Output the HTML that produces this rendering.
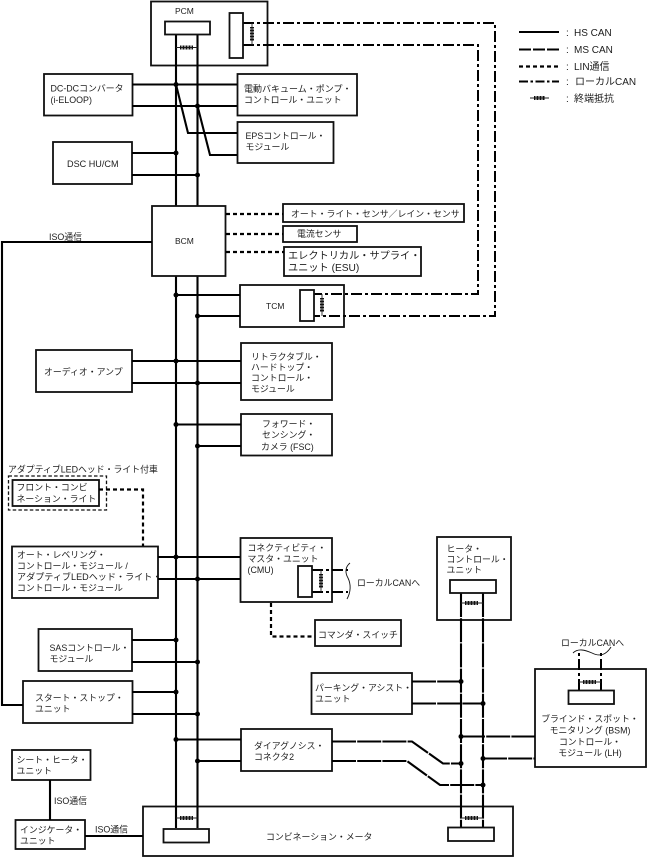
<!DOCTYPE html>
<html><head><meta charset="utf-8">
<style>
html,body{margin:0;padding:0;background:#fff}
svg{display:block}
text{font-family:"Liberation Sans","Noto Sans CJK JP",sans-serif;font-size:8.9px;fill:#1c1c1c}
.b{fill:#fff;stroke:#111;stroke-width:1.8}
.s{fill:none;stroke:#000;stroke-width:2.1}
.ms{fill:none;stroke:#000;stroke-width:2.1;stroke-dasharray:24 1.2}
.lin{fill:none;stroke:#000;stroke-width:2.2;stroke-dasharray:4 3}
.loc{fill:none;stroke:#000;stroke-width:2;stroke-dasharray:11 3 3 3}
.t{fill:none;stroke:#222;stroke-width:.9}
.r{fill:none;stroke:#111;stroke-width:4;stroke-dasharray:1 .5}
.w{fill:none;stroke:#111;stroke-width:.9}
.l{font-size:10px}
</style></head><body>
<svg width="647" height="857" viewBox="0 0 647 857" xmlns="http://www.w3.org/2000/svg">
<!-- boxes -->
<rect class="b" x="151" y="1.5" width="116.5" height="64"/>
<rect class="b" x="44" y="74" width="88.5" height="41.5"/>
<rect class="b" x="237.5" y="74" width="119.5" height="41.5"/>
<rect class="b" x="237.5" y="122" width="96" height="41"/>
<rect class="b" x="53" y="142" width="79" height="42"/>
<rect class="b" x="283" y="204" width="181" height="18"/>
<rect class="b" x="283" y="226" width="74" height="16"/>
<rect class="b" x="284" y="247" width="137" height="29"/>
<rect class="b" x="240" y="285" width="104" height="42"/>
<rect class="b" x="36" y="350" width="96" height="42"/>
<rect class="b" x="241" y="343" width="91" height="57"/>
<rect class="b" x="241" y="414" width="91" height="41.5"/>
<rect x="8.5" y="476" width="98" height="34" fill="none" stroke="#111" stroke-width="1.3" stroke-dasharray="3.5 2.2"/>
<rect class="b" x="12.5" y="480" width="86.5" height="26"/>
<rect class="b" x="12" y="546.500" width="146" height="51.5"/>
<rect class="b" x="240.500" y="538" width="91.500" height="64"/>
<rect class="b" x="315" y="620" width="86" height="26"/>
<rect class="b" x="437" y="537" width="74" height="83"/>
<rect class="b" x="38.500" y="629" width="93.500" height="42"/>
<rect class="b" x="23" y="681" width="109.500" height="42"/>
<rect class="b" x="311.500" y="673" width="100.500" height="41"/>
<rect class="b" x="535" y="669" width="111" height="98"/>
<rect class="b" x="241" y="729" width="91" height="42"/>
<rect class="b" x="12" y="750" width="78.500" height="30"/>
<rect class="b" x="15.500" y="820" width="69.500" height="29"/>
<rect class="b" x="143" y="806.500" width="370" height="49.500"/>
<!-- HS CAN buses -->
<path class="s" d="M176 35V828M197.500 35V828"/>
<path class="s" d="M132 84.500H237M132 106H237M176 84.500L188 133H237M197.500 106L210 155H237"/>
<path class="s" d="M132 153H176M132 175H197.500"/>
<path class="s" d="M176 295H240M197.500 316H240"/>
<path class="s" d="M132 361H241M132 383H241M176 424.500H241M197.500 446H241"/>
<path class="s" d="M158 557H240M158 579H240"/>
<path class="s" d="M132 640H176M132 662H197.500M132 692H176M132 714H197.500"/>
<path class="s" d="M176 739.500H241M197.500 761H241"/>
<!-- BCM hides the bus -->
<rect class="b" x="152" y="206" width="73.5" height="70"/>
<!-- ISO -->
<path class="s" d="M152 242H2V705H23M50 780V820M85 836H143"/>
<!-- LIN -->
<path class="lin" d="M226 214H283M226 234H283M226 252H284"/>
<path class="lin" d="M99 489.500H143V546"/>
<path class="lin" d="M271 603V636.500H315"/>
<!-- Local CAN -->
<path class="loc" d="M243 23H495V316H314"/>
<path class="loc" d="M243 45H478V294H314"/>
<path class="loc" d="M312 570H348M312 592H348"/>
<path class="loc" d="M579 690V650M601 690V650"/>
<!-- MS CAN -->
<path class="ms" d="M461 593V828M483 593V828"/>
<path class="ms" d="M412 681.500H461M412 703.500H483"/>
<path class="ms" d="M461 736.500H535M483 758.500H535"/>
<path class="ms" d="M332 741.500H412L443 763.500H461"/>
<path class="ms" d="M332 761H407L440 785H483"/>
<!-- inner connectors -->
<rect class="b" x="165" y="21.500" width="45" height="13"/>
<rect class="b" x="229.500" y="13" width="13.500" height="45"/>
<rect class="b" x="300" y="290" width="14" height="31"/>
<rect class="b" x="298" y="566" width="14" height="31"/>
<rect class="b" x="450" y="580" width="46" height="13"/>
<rect class="b" x="568.500" y="690.500" width="45.500" height="13.500"/>
<rect class="b" x="163.500" y="829" width="45.500" height="13.500"/>
<rect class="b" x="448" y="827.500" width="46" height="13.500"/>
<!-- resistors -->
<path class="t" d="M176 47.500H197.500"/><path class="r" d="M180 47.500H193"/>
<path class="t" d="M252 23V45"/><path class="r" d="M252 27V41"/>
<path class="t" d="M322 294V316"/><path class="r" d="M322 298V312"/>
<path class="t" d="M321 570V592"/><path class="r" d="M321 574V588"/>
<path class="t" d="M461 603H483"/><path class="r" d="M465 603H478"/>
<path class="t" d="M579 682H601"/><path class="r" d="M583 682H596"/>
<path class="t" d="M176 818H197.500"/><path class="r" d="M180 818H193"/>
<path class="t" d="M461 818H483"/><path class="r" d="M465 818H478"/>
<path class="t" d="M530 98H549"/><path class="r" d="M534 98H545"/>
<!-- waves -->
<path class="w" d="M350 563C345 567 345 573 348 578C351 584 351 592 347 599"/>
<path class="w" d="M573 653C578 648 585 650 592 653C600 657 606 655 611 647"/>
<!-- dots -->
<g fill="#000">
<circle cx="176" cy="84.500" r="2.500"/><circle cx="197.500" cy="106" r="2.500"/>
<circle cx="176" cy="153" r="2.500"/><circle cx="197.500" cy="175" r="2.500"/>
<circle cx="176" cy="295" r="2.500"/><circle cx="197.500" cy="316" r="2.500"/>
<circle cx="176" cy="361" r="2.500"/><circle cx="197.500" cy="383" r="2.500"/>
<circle cx="176" cy="424.500" r="2.500"/><circle cx="197.500" cy="446" r="2.500"/>
<circle cx="176" cy="557" r="2.500"/><circle cx="197.500" cy="579" r="2.500"/>
<circle cx="176" cy="640" r="2.500"/><circle cx="197.500" cy="662" r="2.500"/>
<circle cx="176" cy="692" r="2.500"/><circle cx="197.500" cy="714" r="2.500"/>
<circle cx="176" cy="739.500" r="2.500"/><circle cx="197.500" cy="761" r="2.500"/>
<circle cx="461" cy="681.500" r="2.500"/><circle cx="483" cy="703.500" r="2.500"/>
<circle cx="461" cy="736.500" r="2.500"/><circle cx="483" cy="758.500" r="2.500"/>
<circle cx="461" cy="763.500" r="2.500"/><circle cx="483" cy="785" r="2.500"/>
</g>
<!-- legend -->
<path class="s" d="M519 32H559"/>
<path fill="none" stroke="#000" stroke-width="2.100" stroke-dasharray="12 2" d="M519 49.500H559"/>
<path fill="none" stroke="#000" stroke-width="2.200" stroke-dasharray="4 3" d="M519 66.500H559"/>
<path fill="none" stroke="#000" stroke-width="2.100" stroke-dasharray="9 2.500 2.500 2.500" d="M519 81.500H559"/>
<text class="l" x="566" y="36">:</text><text class="l" x="574" y="36">HS CAN</text>
<text class="l" x="566" y="53">:</text><text class="l" x="574" y="53">MS CAN</text>
<text class="l" x="566" y="70">:</text><text class="l" x="574" y="70">LIN通信</text>
<text class="l" x="566" y="85">:</text><text class="l" x="575" y="85">ローカルCAN</text>
<text class="l" x="566" y="102">:</text><text class="l" x="574" y="102">終端抵抗</text>
<!-- labels -->
<text x="175" y="14" style="font-size:8.500px">PCM</text>
<text x="50.500" y="91.500">DC-DCコンバータ</text><text x="50.500" y="103">(i-ELOOP)</text>
<text x="244" y="92" style="font-size:9px">電動バキューム・ポンプ・</text><text x="244" y="103">コントロール・ユニット</text>
<text x="245.500" y="139">EPSコントロール・</text><text x="245.500" y="150">モジュール</text>
<text x="67" y="167" style="font-size:9.100px">DSC HU/CM</text>
<text x="175" y="244" style="font-size:8.500px">BCM</text>
<text x="49" y="240">ISO通信</text>
<text x="291" y="217">オート・ライト・センサ／レイン・センサ</text>
<text x="297" y="237">電流センサ</text>
<text x="288" y="259" style="font-size:10.200px">エレクトリカル・サプライ・</text><text x="288" y="271" style="font-size:10.200px">ユニット (ESU)</text>
<text x="266" y="309" style="font-size:8.500px">TCM</text>
<text x="44" y="375">オーディオ・アンプ</text>
<text x="251" y="360">リトラクタブル・</text><text x="251" y="370.500">ハードトップ・</text><text x="251" y="381">コントロール・</text><text x="251" y="392">モジュール</text>
<text x="262" y="427">フォワード・</text><text x="262" y="438">センシング・</text><text x="261" y="450">カメラ (FSC)</text>
<text x="8" y="472.500">アダプティブLEDヘッド・ライト付車</text>
<text x="16.500" y="490.500">フロント・コンビ</text><text x="16.500" y="502">ネーション・ライト</text>
<text x="17" y="558">オート・レベリング・</text><text x="17" y="569">コントロール・モジュール /</text><text x="17" y="580" style="font-size:9.100px">アダプティブLEDヘッド・ライト・</text><text x="17" y="591">コントロール・モジュール</text>
<text x="247.500" y="551">コネクティビティ・</text><text x="247.500" y="562">マスタ・ユニット</text><text x="247.500" y="573">(CMU)</text>
<text x="357" y="586">ローカルCANへ</text>
<text x="318" y="638">コマンダ・スイッチ</text>
<text x="446.500" y="552">ヒータ・</text><text x="446.500" y="562.500">コントロール・</text><text x="446.500" y="573">ユニット</text>
<text x="561" y="646">ローカルCANへ</text>
<text x="315" y="691">パーキング・アシスト・</text><text x="315" y="702">ユニット</text>
<text x="590" y="722" text-anchor="middle">ブラインド・スポット・</text><text x="590" y="733.500" text-anchor="middle">モニタリング (BSM)</text><text x="590" y="745" text-anchor="middle">コントロール・</text><text x="590" y="756" text-anchor="middle">モジュール (LH)</text>
<text x="49.500" y="651">SASコントロール・</text><text x="49.500" y="662">モジュール</text>
<text x="35" y="701">スタート・ストップ・</text><text x="35" y="712">ユニット</text>
<text x="254" y="749">ダイアグノシス・</text><text x="254" y="760">コネクタ2</text>
<text x="16.500" y="763">シート・ヒータ・</text><text x="16.500" y="774">ユニット</text>
<text x="54" y="804">ISO通信</text>
<text x="95" y="832.500">ISO通信</text>
<text x="20" y="833">インジケータ・</text><text x="20" y="844">ユニット</text>
<text x="266" y="840">コンビネーション・メータ</text>
</svg>
</body></html>
